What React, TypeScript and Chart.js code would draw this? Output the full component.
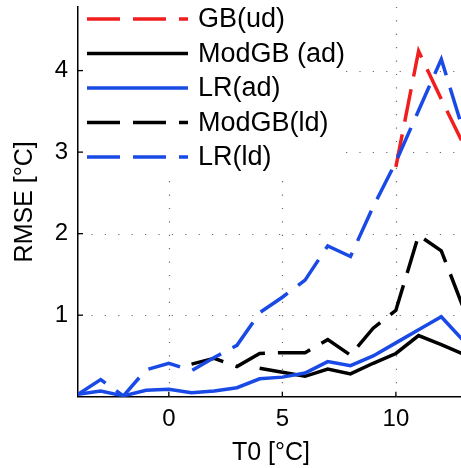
import { useEffect, useRef } from "react";
import { Chart, registerables } from "chart.js";

Chart.register(...registerables);

// ---- data ----
const xValues = [-4, -3, -2, -1, 0, 1, 2, 3, 4, 5, 6, 7, 8, 9, 10, 11, 12, 13];
const gbUd = [null, null, null, null, null, null, null, null, null, null, null, null, null, null, 2.82, 4.24, 3.65, 3.08];
const modGbAd = [null, null, null, null, null, null, null, null, 0.35, 0.3, 0.25, 0.34, 0.28, 0.41, 0.53, 0.75, 0.64, 0.52];
const lrAd = [0.03, 0.07, 0.01, 0.08, 0.09, 0.05, 0.07, 0.11, 0.22, 0.24, 0.29, 0.43, 0.38, 0.5, 0.66, 0.82, 0.98, 0.68];
const modGbLd = [null, null, null, null, null, 0.4, 0.47, 0.37, 0.53, 0.54, 0.54, 0.7, 0.51, 0.84, 1.06, 1.98, 1.79, 1.07];
const lrLd = [0.03, 0.21, 0.01, 0.33, 0.41, 0.32, 0.48, 0.63, 1.03, 1.22, 1.43, 1.85, 1.72, 2.33, 2.88, 3.51, 4.14, 3.23];
const seriesLabels = ["GB(ud)", "ModGB (ad)", "LR(ad)", "ModGB(ld)", "LR(ld)"];
const xTickValues = [0, 5, 10];
const yTickValues = [1, 2, 3, 4];
const xTitle = "T0 [°C]";
const yTitle = "RMSE [°C]";

const RED = "#f01e1e";
const BLUE = "#1a4ae6";
const BLACK = "#000000";
const DASH = [33, 13];
const FONT = "'Liberation Sans', Arial, Helvetica, sans-serif";

const seriesValues = [gbUd, modGbAd, lrAd, modGbLd, lrLd];
const seriesColors = [RED, BLACK, BLUE, BLACK, BLUE];
const seriesDashed = [true, false, false, true, true];

const decorPlugin = {
  id: "decor",
  beforeDatasetsDraw(chart: any) {
    const { ctx, chartArea } = chart;
    const xs = chart.scales.x;
    const ys = chart.scales.y;
    ctx.save();
    ctx.strokeStyle = "#6a6a6a";
    ctx.lineWidth = 1.2;
    ctx.setLineDash([1.2, 12.2]);
    yTickValues.forEach((v) => {
      const py = Math.round(ys.getPixelForValue(v)) + 0.5;
      ctx.beginPath();
      ctx.moveTo(chartArea.left, py);
      ctx.lineTo(chartArea.right, py);
      ctx.stroke();
    });
    xTickValues.forEach((v) => {
      const px = Math.round(xs.getPixelForValue(v)) + 0.5;
      ctx.beginPath();
      ctx.moveTo(px, chartArea.bottom);
      ctx.lineTo(px, chartArea.top);
      ctx.stroke();
    });
    ctx.restore();
  },
  afterDatasetsDraw(chart: any) {
    const { ctx, chartArea } = chart;
    const xs = chart.scales.x;
    const ys = chart.scales.y;
    ctx.save();
    // legend
    ctx.fillStyle = "#ffffff";
    ctx.fillRect(chartArea.left + 1, 0, 345 - chartArea.left - 1, 176);
    const rowY = [19, 53.5, 88, 122.5, 157];
    seriesLabels.forEach((label, i) => {
      const y = rowY[i];
      ctx.strokeStyle = seriesColors[i];
      ctx.lineWidth = 3.5;
      ctx.setLineDash(seriesDashed[i] ? DASH : []);
      ctx.beginPath();
      ctx.moveTo(87, y);
      ctx.lineTo(188, y);
      ctx.stroke();
      ctx.setLineDash([]);
      ctx.fillStyle = "#000";
      ctx.font = `27px ${FONT}`;
      ctx.textBaseline = "middle";
      ctx.textAlign = "left";
      ctx.fillText(label, 198, y + 1);
    });
    // inward ticks
    ctx.strokeStyle = "#000";
    ctx.lineWidth = 1.3;
    ctx.setLineDash([]);
    yTickValues.forEach((v) => {
      const py = ys.getPixelForValue(v);
      ctx.beginPath();
      ctx.moveTo(chartArea.left, py);
      ctx.lineTo(chartArea.left + 5, py);
      ctx.stroke();
    });
    xTickValues.forEach((v) => {
      const px = xs.getPixelForValue(v);
      ctx.beginPath();
      ctx.moveTo(px, chartArea.bottom);
      ctx.lineTo(px, chartArea.bottom - 5);
      ctx.stroke();
    });
    ctx.restore();
  },
};

export default function App() {
  const canvasRef = useRef<HTMLCanvasElement | null>(null);

  useEffect(() => {
    if (!canvasRef.current) return;
    const datasets = seriesLabels.map((label, i) => ({
      label,
      data: xValues.map((x, j) => ({ x, y: seriesValues[i][j] })),
      borderColor: seriesColors[i],
      backgroundColor: seriesColors[i],
      borderWidth: 3.5,
      borderDash: seriesDashed[i] ? DASH : [],
      pointRadius: 0,
      tension: 0,
      fill: false,
      spanGaps: false,
      order: seriesLabels.length - i,
    }));
    const chart = new Chart(canvasRef.current, {
      type: "line",
      data: { datasets: datasets as any },
      options: {
        animation: false,
        responsive: true,
        maintainAspectRatio: false,
        events: [],
        layout: { padding: { top: 7, right: 2, left: 0, bottom: 0 } },
        plugins: { legend: { display: false }, tooltip: { enabled: false } },
        scales: {
          x: {
            type: "linear",
            min: -4,
            max: 13,
            afterBuildTicks: (s: any) => {
              s.ticks = xTickValues.map((v) => ({ value: v }));
            },
            afterFit: (s: any) => {
              s.height = 71.3;
              s.paddingLeft = 0;
              s.paddingRight = 0;
            },
            ticks: {
              color: "#000",
              font: { size: 24, family: FONT },
              padding: 8,
              maxRotation: 0,
              autoSkip: false,
            },
            title: {
              display: true,
              text: xTitle,
              color: "#000",
              font: { size: 25, family: FONT },
              padding: { top: 4, bottom: 0 },
            },
            grid: { display: false, drawTicks: false },
            border: { display: true, color: "#000", width: 1.5 },
          },
          y: {
            type: "linear",
            min: 0,
            max: 4.78,
            afterBuildTicks: (s: any) => {
              s.ticks = yTickValues.map((v) => ({ value: v }));
            },
            afterFit: (s: any) => {
              s.width = 78;
              s.paddingTop = 0;
              s.paddingBottom = 0;
            },
            ticks: {
              color: "#000",
              font: { size: 24, family: FONT },
              padding: 10,
              autoSkip: false,
            },
            title: {
              display: true,
              text: yTitle,
              color: "#000",
              font: { size: 25, family: FONT },
              padding: { top: 10, bottom: 0 },
            },
            grid: { display: false, drawTicks: false },
            border: { display: true, color: "#000", width: 1.5 },
          },
        },
      },
      plugins: [decorPlugin],
    });
    return () => chart.destroy();
  }, []);

  return (
    <div style={{ position: "fixed", left: 0, top: 0, width: 466, height: 468, background: "#fff" }}>
      <canvas ref={canvasRef} />
    </div>
  );
}
